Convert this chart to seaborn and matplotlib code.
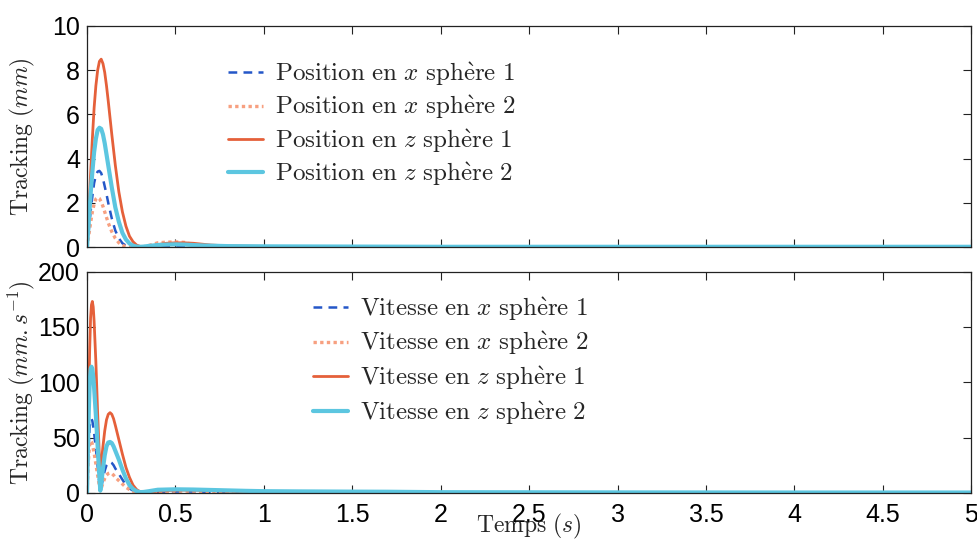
import numpy as np
import pandas as pd
import matplotlib
matplotlib.use("Agg")
import matplotlib.pyplot as plt
import seaborn as sns
from matplotlib.lines import Line2D

# -------------------------------
# Data
# -------------------------------
t_pos = [0, 0.01, 0.02, 0.03, 0.04, 0.05, 0.06, 0.07, 0.08, 0.09,
         0.10, 0.11, 0.12, 0.14, 0.16, 0.18, 0.20, 0.22, 0.24, 0.26,
         0.28, 0.30, 0.32, 0.35, 0.40, 0.45, 0.50, 0.55, 0.60, 0.65,
         0.70, 0.80, 1.0, 1.5, 2.0, 3.0, 4.0, 5.0]
pos_x1 = [0, 0.8, 1.6, 2.3, 2.9, 3.25, 3.42, 3.45, 3.35, 3.1,
          2.75, 2.4, 2.0, 1.3, 0.75, 0.4, 0.18, 0.07, 0.02, 0.0,
          0, 0, 0, 0, 0.01, 0.02, 0.03, 0.03, 0.02, 0.02,
          0.01, 0.01, 0, 0, 0, 0, 0, 0]
pos_x2 = [0, 0.55, 1.1, 1.6, 1.95, 2.18, 2.25, 2.2, 2.05, 1.85,
          1.6, 1.35, 1.1, 0.7, 0.4, 0.2, 0.08, 0.03, 0.01, 0,
          0, 0, 0.02, 0.08, 0.2, 0.23, 0.24, 0.22, 0.12, 0.05,
          0.03, 0.02, 0.01, 0, 0, 0, 0, 0]
pos_z1 = [0, 1.6, 3.3, 4.9, 6.3, 7.3, 8.0, 8.4, 8.5, 8.3,
          7.9, 7.3, 6.6, 5.1, 3.7, 2.5, 1.6, 0.95, 0.5, 0.25,
          0.1, 0.04, 0.01, 0.03, 0.12, 0.18, 0.2, 0.2, 0.18, 0.14,
          0.1, 0.06, 0.04, 0.03, 0.02, 0.01, 0.01, 0.01]
pos_z2 = [0, 1.2, 2.4, 3.4, 4.3, 4.9, 5.3, 5.4, 5.35, 5.1,
          4.7, 4.2, 3.7, 2.7, 1.8, 1.15, 0.65, 0.35, 0.17, 0.07,
          0.03, 0.02, 0.03, 0.06, 0.1, 0.12, 0.13, 0.12, 0.1, 0.08,
          0.07, 0.05, 0.04, 0.03, 0.02, 0.02, 0.02, 0.02]

t_vel = [0, 0.005, 0.01, 0.015, 0.02, 0.025, 0.03, 0.035, 0.04, 0.05,
         0.06, 0.07, 0.075, 0.08, 0.09, 0.10, 0.11, 0.12, 0.13, 0.14,
         0.15, 0.16, 0.18, 0.20, 0.22, 0.24, 0.26, 0.28, 0.30, 0.32,
         0.35, 0.40, 0.50, 0.60, 0.70, 0.80, 0.90, 1.0, 1.2, 1.5,
         1.7, 2.0, 3.0, 4.0, 5.0]
vel_x1 = [0, 25, 45, 60, 66, 67, 65, 60, 54, 40,
          24, 8, 2, 5, 13, 20, 25, 27.5, 28, 27,
          25, 22, 17, 12, 7, 4, 2, 0.8, 0.3, 0.2,
          0.4, 1.0, 1.2, 1.2, 1.0, 0.8, 0.5, 0.3, 0.2, 0.1,
          0.1, 0.1, 0, 0, 0]
vel_x2 = [0, 20, 35, 44, 47, 46, 44, 40, 36, 26,
          16, 6, 2, 4, 9, 13, 16, 17.5, 18, 17.5,
          16, 14, 11, 8, 5, 3, 1.5, 0.6, 0.2, 0.2,
          0.4, 1.2, 1.5, 1.5, 1.2, 1.0, 0.6, 0.4, 0.2, 0.1,
          0.1, 0.1, 0, 0, 0]
vel_z1 = [0, 45, 90, 130, 158, 170, 173, 168, 155, 118,
          72, 32, 22, 26, 42, 56, 66, 71, 72.5, 71,
          67, 61, 48, 35, 23, 14, 7, 3, 1, 0.3,
          0.5, 1.5, 2.5, 2.5, 2.0, 1.5, 1.2, 1.0, 0.8, 0.6,
          0.5, 0.3, 0.2, 0.1, 0.1]
vel_z2 = [0, 40, 75, 100, 112, 114, 112, 105, 95, 70,
          42, 14, 2, 8, 22, 34, 42, 45.5, 46, 45,
          42, 38, 30, 21, 13, 7, 3.5, 1.5, 0.6, 0.8,
          1.5, 2.8, 3.2, 3.0, 2.6, 2.2, 1.8, 1.5, 1.3, 1.1,
          1.0, 0.6, 0.4, 0.3, 0.3]

pos_labels = [r"$\mathrm{Position\ en}\ x\ \mathrm{sph\grave{e}re\ 1}$",
              r"$\mathrm{Position\ en}\ x\ \mathrm{sph\grave{e}re\ 2}$",
              r"$\mathrm{Position\ en}\ z\ \mathrm{sph\grave{e}re\ 1}$",
              r"$\mathrm{Position\ en}\ z\ \mathrm{sph\grave{e}re\ 2}$"]
vel_labels = [r"$\mathrm{Vitesse\ en}\ x\ \mathrm{sph\grave{e}re\ 1}$",
              r"$\mathrm{Vitesse\ en}\ x\ \mathrm{sph\grave{e}re\ 2}$",
              r"$\mathrm{Vitesse\ en}\ z\ \mathrm{sph\grave{e}re\ 1}$",
              r"$\mathrm{Vitesse\ en}\ z\ \mathrm{sph\grave{e}re\ 2}$"]
x_ticks = [0, 0.5, 1, 1.5, 2, 2.5, 3, 3.5, 4, 4.5, 5]
x_tick_labels = ["0", "0.5", "1", "1.5", "2", "2.5", "3", "3.5", "4", "4.5", "5"]

# styles: x1 dashed blue, x2 dotted salmon, z1 solid orange, z2 thick cyan
styles = [
    dict(color="#2457c8", linestyle=(0, (3.5, 2.5)), linewidth=1.8),
    dict(color="#f7a080", linestyle=(0, (1, 1)), linewidth=2.4),
    dict(color="#e5603a", linestyle="-", linewidth=2.0),
    dict(color="#5cc6e0", linestyle="-", linewidth=3.0),
]

# -------------------------------
# Plot
# -------------------------------
sns.set_theme(style="ticks")
plt.rcParams["font.family"] = ["Liberation Sans", "DejaVu Sans"]
plt.rcParams["mathtext.fontset"] = "cm"

fig, (ax1, ax2) = plt.subplots(2, 1, figsize=(9.78, 5.41), dpi=100)
fig.subplots_adjust(left=0.089, right=0.993, top=0.952, bottom=0.089, hspace=0.11)


def draw_panel(ax, t, series, labels):
    for vals, lab, st in zip(series, labels, styles):
        df = pd.DataFrame({"t": t, "v": vals})
        sns.lineplot(data=df, x="t", y="v", ax=ax, label=lab, estimator=None,
                     sort=True, **st)
    ax.set_xlim(0, 5)
    ax.set_xticks(x_ticks)
    ax.tick_params(direction="in", top=True, right=True, length=6, width=0.8,
                   labelsize=18, colors="#222222", labelcolor="black")
    ax.tick_params(axis="y", pad=5)
    ax.tick_params(axis="x", pad=7)
    for sp in ax.spines.values():
        sp.set_linewidth(0.9)
        sp.set_color("#222222")


draw_panel(ax1, t_pos, [pos_x1, pos_x2, pos_z1, pos_z2], pos_labels)
draw_panel(ax2, t_vel, [vel_x1, vel_x2, vel_z1, vel_z2], vel_labels)

ax1.set_ylim(0, 10)
ax1.set_yticks([0, 2, 4, 6, 8, 10])
ax1.set_xticklabels([])
ax1.set_xlabel("")
ax1.set_ylabel(r"$\mathrm{Tracking}\ (mm)$", fontsize=17)
ax1.yaxis.set_label_coords(-0.057, 0.5)

ax2.set_ylim(0, 200)
ax2.set_yticks([0, 50, 100, 150, 200])
ax2.set_xticklabels(x_tick_labels)
ax2.set_ylabel(r"$\mathrm{Tracking}\ (mm.s^{-1})$", fontsize=17)
ax2.yaxis.set_label_coords(-0.057, 0.5)
ax2.set_xlabel(r"$\mathrm{Temps}\ (s)$", fontsize=17)
ax2.xaxis.set_label_coords(0.5, -0.085)


def make_legend(ax, labels, anchor, spacing):
    handles = [Line2D([0], [0], **st) for st in styles]
    ax.legend(handles, labels, loc="upper left", bbox_to_anchor=anchor,
              frameon=False, fontsize=18, handlelength=1.4, handletextpad=0.45,
              labelspacing=spacing, borderaxespad=0, borderpad=0)


make_legend(ax1, pos_labels, (0.16, 0.845), 0.22)
make_legend(ax2, vel_labels, (0.256, 0.895), 0.28)

fig.savefig("out.png", dpi=100)
